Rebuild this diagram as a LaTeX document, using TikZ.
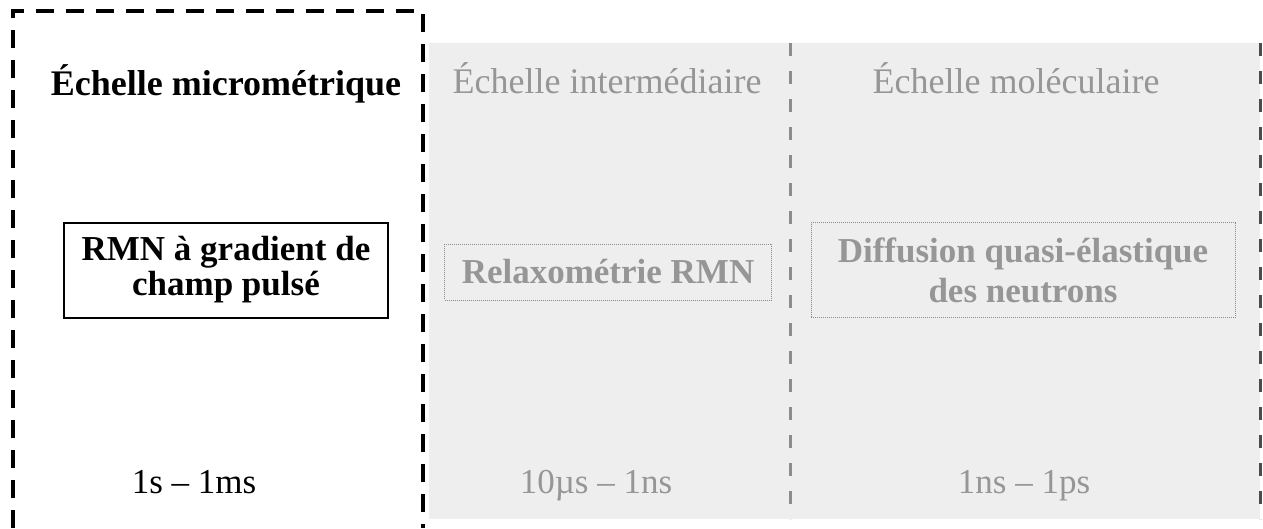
\documentclass[tikz,border=0pt]{standalone}
\usepackage{fontspec}
\setmainfont{Liberation Serif}
\usetikzlibrary{positioning}
\definecolor{fondgris}{RGB}{238,238,238}
\definecolor{textegris}{RGB}{150,150,150}
\definecolor{traitgris}{RGB}{140,140,140}
\tikzset{
  titrenoir/.style={anchor=base,font=\fontsize{36}{36}\selectfont\bfseries},
  titregris/.style={anchor=base,text=textegris,font=\fontsize{36}{36}\selectfont},
  boitenoire/.style={draw,line width=2pt,align=center,inner sep=0pt,
    minimum width=324pt,minimum height=95pt,font=\fontsize{35}{35}\selectfont\bfseries},
  boitegrise/.style={draw=traitgris,line width=1pt,densely dotted,align=center,inner sep=0pt,
    text=textegris,font=\fontsize{35}{40}\selectfont\bfseries},
  temps/.style={anchor=base,font=\fontsize{35}{35}\selectfont},
}
\begin{document}
\begin{tikzpicture}[x=1pt,y=-1pt]
    \useasboundingbox (0,0) rectangle (1263,528);
    % fond gris des deux echelles
    \fill[fondgris] (429,43) rectangle (1260,519);
    \draw[traitgris,line width=3pt,dash pattern=on 13pt off 15pt] (790,43) -- (790,519);
    \draw[black!70,line width=3pt,dash pattern=on 13pt off 15pt] (1260,43) -- (1260,519);
    % cadre en tirets
    \draw[line width=4pt,dash pattern=on 18pt off 12pt] (13,528) -- (13,11) -- (423,11) -- (423,528);
    % titres
    \node[titrenoir] (micro) at (226,95) {Échelle micrométrique};
    \node[titregris] (inter) at (607,93) {Échelle intermédiaire};
    \node[titregris] (mol) at (1016,93) {Échelle moléculaire};
    % techniques
    \node[boitenoire] (pfg) at (226,270) {RMN à gradient de\\champ pulsé};
    \node[boitegrise,minimum width=327pt,minimum height=56pt] (relax) at (608,272) {Relaxométrie RMN};
    \node[boitegrise,minimum width=424pt,minimum height=95pt] (qens) at (1023,270) {Diffusion quasi-élastique\\des neutrons};
    % temps
    \node[temps] (t1) at (194,493) {1s -- 1ms};
    \node[temps,text=textegris] (t2) at (596,493) {10µs -- 1ns};
    \node[temps,text=textegris] (t3) at (1024,493) {1ns -- 1ps};
\end{tikzpicture}
\end{document}
